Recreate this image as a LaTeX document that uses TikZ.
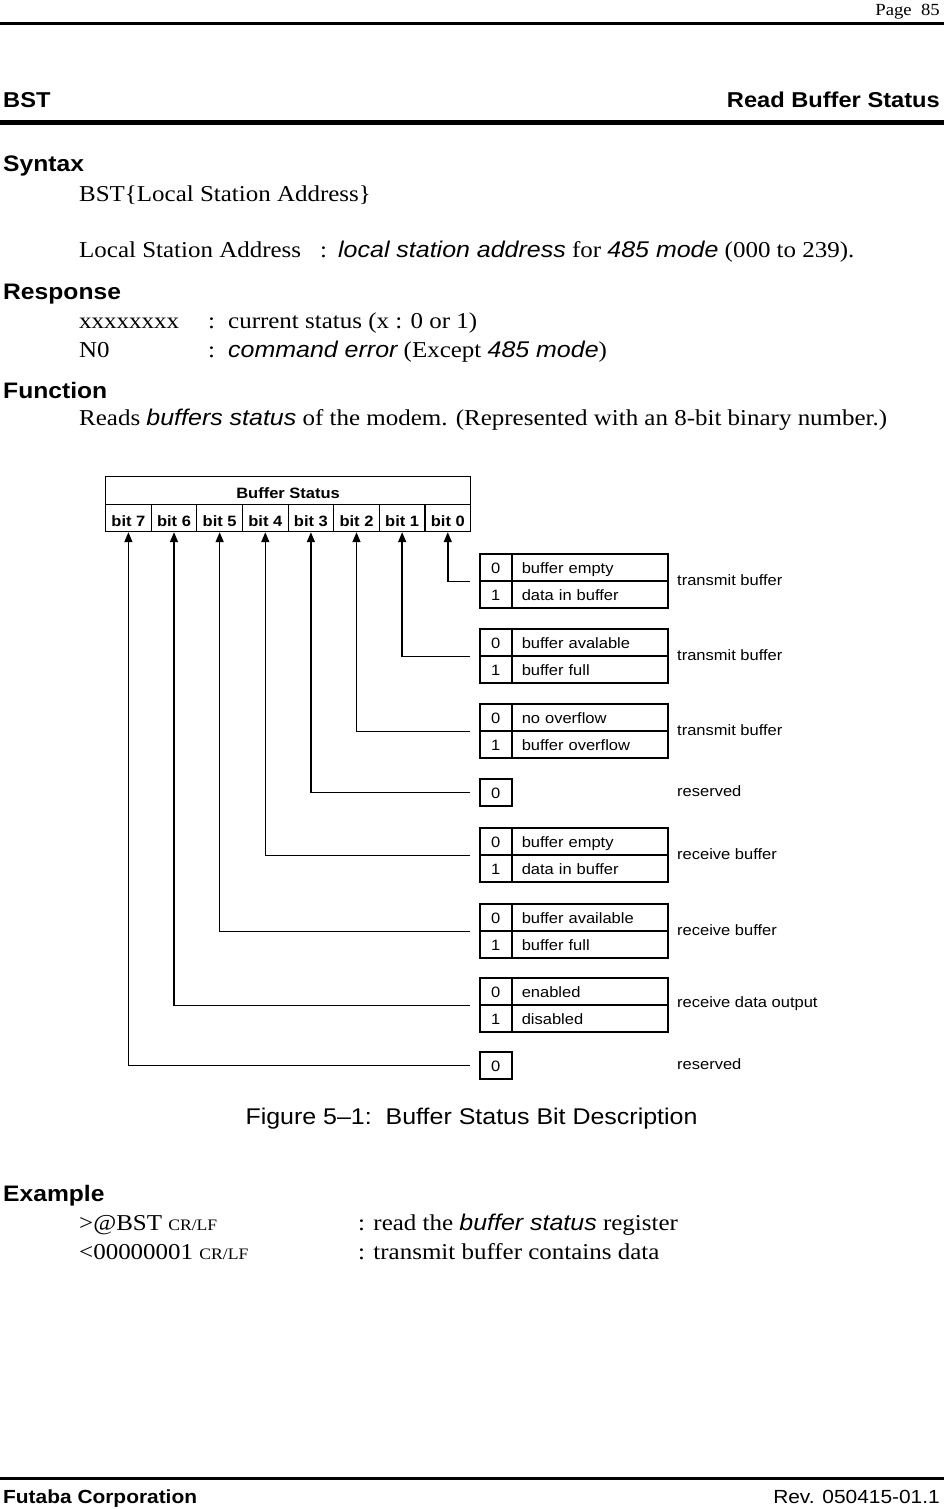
\documentclass[tikz,border=0pt]{standalone}
\usepackage{fontspec}
\setmainfont{Liberation Serif}[FakeStretch=1.1]
\setsansfont{Liberation Sans}[FakeStretch=1.1]
\usetikzlibrary{arrows.meta}

\newcommand{\txtfont}{\fontsize{22.7}{27}\selectfont}
\newcommand{\hdfont}{\sffamily\bfseries\fontsize{21.5}{26}\selectfont}
\newcommand{\secfont}{\sffamily\bfseries\fontsize{22.4}{26}\selectfont}
\newcommand{\dgfont}{\sffamily\fontsize{15}{18}\selectfont}
\newcommand{\sfit}{\sffamily\itshape}
\newcommand{\crlf}{{\fontsize{16}{18}\selectfont CR/LF}}

\tikzset{
	txt/.style={anchor=base west, inner sep=0pt, font=\txtfont},
	hd/.style={anchor=base west, inner sep=0pt, font=\hdfont},
	sec/.style={anchor=base west, inner sep=0pt, font=\secfont},
	bitcell/.style={draw, line width=1.2pt, anchor=north west, minimum width=45.6pt, minimum height=27pt, inner sep=0pt, text height=17pt, text depth=0pt, font=\dgfont\bfseries},
	valcell/.style={draw, line width=1.5pt, anchor=north west, minimum width=32pt, minimum height=27pt, inner sep=0pt, text height=13pt, text depth=1pt, font=\dgfont},
	desccell/.style={draw, line width=1.5pt, anchor=north west, minimum width=156pt, minimum height=27pt, text width=136pt, inner xsep=10pt, inner ysep=0pt, text height=13pt, text depth=1pt, align=left, font=\dgfont},
	note/.style={anchor=west, inner sep=0pt, font=\dgfont},
	conn/.style={line width=1.5pt, {Triangle[width=8pt,length=10pt]}-, shorten >=9pt}
}

\begin{document}
\begin{tikzpicture}[x=1pt, y=-1pt]
	\fill[white] (0,0) rectangle (944,1509);
	\useasboundingbox (0,0) rectangle (944,1509);

	% page head
	\node[anchor=base east, inner sep=0pt, font=\fontsize{17}{20}\selectfont] (page) at (940,16) {Page\ \ 85};
	\draw[line width=3pt] (0,24) -- (944,24);
	\node[hd] (cmd) at (3,108) {BST};
	\node[hd, anchor=base east] (title) at (940,108) {Read Buffer Status};
	\draw[line width=5pt] (0,122.5) -- (944,122.5);

	% syntax
	\node[sec] (syntax) at (3,171) {Syntax};
	\node[txt] (form) at (79,201) {BST\{Local Station Address\}};
	\node[txt] (lsa) at (79,257) {Local Station Address};
	\node[txt] (lsac) at (320,257) {:};
	\node[txt] (lsav) at (338,257) {{\sfit local station address} for {\sfit 485 mode} (000 to 239).};

	% response
	\node[sec] (response) at (3,299) {Response};
	\node[txt] (rx) at (79,328) {xxxxxxxx};
	\node[txt] (rxc) at (208,328) {:};
	\node[txt] (rxv) at (228,328) {current status (x : 0 or 1)};
	\node[txt] (rn) at (79,357) {N0};
	\node[txt] (rnc) at (208,357) {:};
	\node[txt] (rnv) at (228,357) {{\sfit command error} (Except {\sfit 485 mode})};

	% function
	\node[sec] (function) at (3,398) {Function};
	\node[txt] (reads) at (79,425) {Reads {\sfit buffers status} of the modem. (Represented with an 8-bit binary number.)};

	% register
	\node[bitcell, minimum width=365pt, minimum height=28pt, text height=16pt] (bs) at (105,476) {Buffer Status};
	\node[bitcell] (b7) at (105,504) {bit 7};
	\node[bitcell] (b6) at (150.6,504) {bit 6};
	\node[bitcell] (b5) at (196.25,504) {bit 5};
	\node[bitcell] (b4) at (241.9,504) {bit 4};
	\node[bitcell] (b3) at (287.5,504) {bit 3};
	\node[bitcell] (b2) at (333.1,504) {bit 2};
	\node[bitcell] (b1) at (378.75,504) {bit 1};
	\node[bitcell] (b0) at (424.4,504) {bit 0};

	% bit 0
	\node[valcell] (v0a) at (479,553) {0};
	\node[desccell] (d0a) at (511,553) {buffer empty};
	\node[valcell] (v0b) at (479,580) {1};
	\node[desccell] (d0b) at (511,580) {data in buffer};
	\node[note] (n0) at (677,580) {transmit buffer};
	% bit 1
	\node[valcell] (v1a) at (479,628) {0};
	\node[desccell] (d1a) at (511,628) {buffer avalable};
	\node[valcell] (v1b) at (479,655) {1};
	\node[desccell] (d1b) at (511,655) {buffer full};
	\node[note] (n1) at (677,655) {transmit buffer};
	% bit 2
	\node[valcell] (v2a) at (479,703) {0};
	\node[desccell] (d2a) at (511,703) {no overflow};
	\node[valcell] (v2b) at (479,730) {1};
	\node[desccell] (d2b) at (511,730) {buffer overflow};
	\node[note] (n2) at (677,730) {transmit buffer};
	% bit 3
	\node[valcell] (v3) at (479,778) {0};
	\node[note] (n3) at (677,791) {reserved};
	% bit 4
	\node[valcell] (v4a) at (479,827) {0};
	\node[desccell] (d4a) at (511,827) {buffer empty};
	\node[valcell] (v4b) at (479,854) {1};
	\node[desccell] (d4b) at (511,854) {data in buffer};
	\node[note] (n4) at (677,854) {receive buffer};
	% bit 5
	\node[valcell] (v5a) at (479,903) {0};
	\node[desccell] (d5a) at (511,903) {buffer available};
	\node[valcell] (v5b) at (479,930) {1};
	\node[desccell] (d5b) at (511,930) {buffer full};
	\node[note] (n5) at (677,930) {receive buffer};
	% bit 6
	\node[valcell] (v6a) at (479,977) {0};
	\node[desccell] (d6a) at (511,977) {enabled};
	\node[valcell] (v6b) at (479,1004) {1};
	\node[desccell] (d6b) at (511,1004) {disabled};
	\node[note] (n6) at (677,1004) {receive data output};
	% bit 7
	\node[valcell] (v7) at (479,1051) {0};
	\node[note] (n7) at (677,1064) {reserved};

	\draw[conn] (b0.south) |- (v0a.south west);
	\draw[conn] (b1.south) |- (v1a.south west);
	\draw[conn] (b2.south) |- (v2a.south west);
	\draw[conn] (b3.south) |- (v3.west);
	\draw[conn] (b4.south) |- (v4a.south west);
	\draw[conn] (b5.south) |- (v5a.south west);
	\draw[conn] (b6.south) |- (v6a.south west);
	\draw[conn] (b7.south) |- (v7.west);

	\node[anchor=base, inner sep=0pt, font=\sffamily\fontsize{22.7}{26}\selectfont] (cap) at (471.5,1124) {Figure 5--1:\ \ Buffer Status Bit Description};

	% example
	\node[sec] (example) at (3,1201) {Example};
	\node[txt] (ex1) at (79,1230) {>@BST \crlf};
	\node[txt] (ex1c) at (358,1230) {: read the {\sfit buffer status} register};
	\node[txt] (ex2) at (79,1259) {<00000001 \crlf};
	\node[txt] (ex2c) at (358,1259) {: transmit buffer contains data};

	% page foot
	\draw[line width=3pt] (0,1478) -- (944,1478);
	\node[anchor=base west, inner sep=0pt, font=\sffamily\bfseries\fontsize{19}{22}\selectfont] (corp) at (3,1503) {Futaba Corporation};
	\node[anchor=base east, inner sep=0pt, font=\sffamily\fontsize{19}{22}\selectfont] (rev) at (940,1503) {Rev. 050415-01.1};
\end{tikzpicture}
\end{document}
